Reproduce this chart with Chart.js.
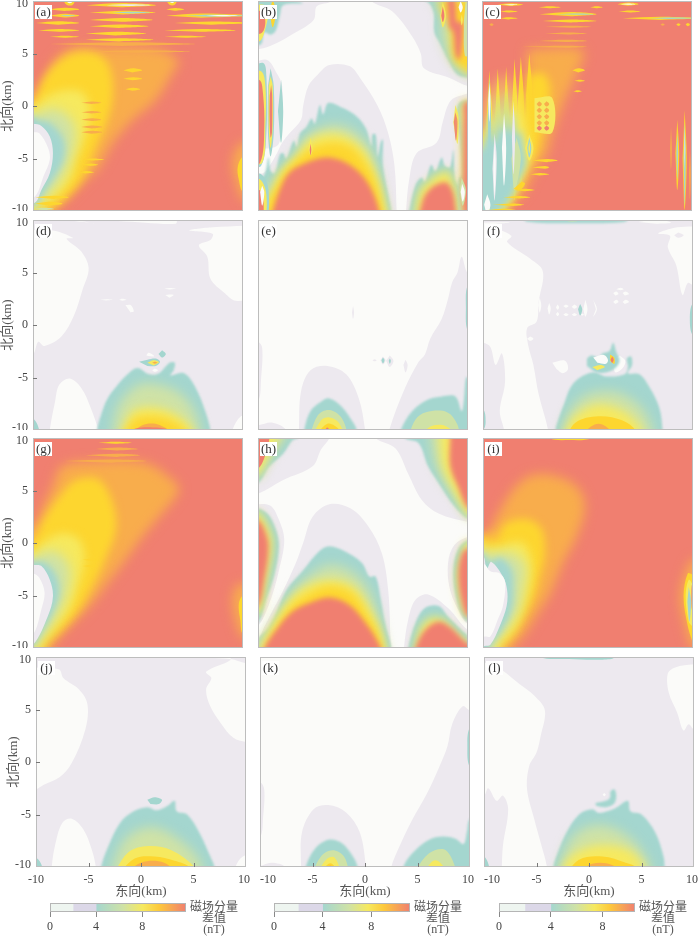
<!DOCTYPE html>
<html>
<head>
<meta charset="utf-8">
<title>磁场分量差值</title>
<script src="https://cdn.jsdelivr.net/npm/chart.js@4/dist/chart.umd.min.js"></script>
<style>
  html, body { margin: 0; padding: 0; background: #fff; }
  #page { position: relative; width: 700px; height: 936px; overflow: hidden; filter: blur(0.3px); }
  #page canvas { position: absolute; }
  .tag { position: absolute; width: 17px; height: 14px; background: #fff; font: 13px/14px "Liberation Serif", serif; color: #333; text-align: center; }
  .unit { position: absolute; width: 56px; font: 12px/11px "Liberation Serif", "Noto Sans CJK SC", serif; color: #555; text-align: center; }
</style>
</head>
<body>
<div id="page"></div>
<script>
// 等值线层 [nT, [x,y, x,y, ...]] 单位 km, 从图上读取, 按顺序叠加
const wholePanel = [-11,-11, 11,-11, 11,11, -11,11];
const axisTicks = [-10, -5, 0, 5, 10];
const levelValues = [0, 2, 4, 5.5, 7, 8, 9, 10.5];
const panelTags = ["(a)", "(b)", "(c)", "(d)", "(e)", "(f)", "(g)", "(h)", "(i)", "(j)", "(k)", "(l)"];
const colorbarTicks = [0, 4, 8];
const colorbarMax = [11.8, 11.2, 10.5];
const colorbarUnit = ["磁场分量", "差值", "(nT)"];

const contoursA = [
  [10.5, wholePanel],
  [9, [-11,1, -10,1, -8.5,3.5, -7.5,4.8, -6,5.6, -4,5.6, 2,5.4, 4,4.2, 3.6,3.7, 1.7,0.6, -0.5,-1.3, -2.4,-3.5, -3.7,-5.8, -4.9,-7, -6.8,-8.9, -8.1,-10, -8.4,-11, -11,-11]],
  [8, [-11,0.25, -10,0.25, -9,2.5, -7.8,4, -6.2,5, -4,5, -2.7,3.7, -2.4,0.9, -3,-1.6, -4,-3.9, -4.9,-6.1, -5.9,-7.7, -7.5,-9.3, -8.7,-10, -8.9,-11, -11,-11]],
  [7, [-11,-0.2, -10,-0.2, -8.7,0.9, -6.8,1.5, -5.2,1.2, -4.6,-0.7, -5.1,-3.2, -5.9,-5.1, -6.3,-6.7, -7.6,-8.4, -9.2,-9.5, -9.8,-10, -11,-11]],
  [5.5, [-11,-0.9, -10,-0.9, -9,-0.4, -7.5,-0.4, -6.2,-1.6, -6,-3.5, -6.8,-6.1, -7.8,-7.7, -9,-8.9, -9.8,-9.5, -11,-9.6]],
  [4, [-11,-1, -10,-1, -9.5,-1.3, -8.4,-1.6, -7.1,-3.2, -7.1,-5.1, -8.1,-7, -9,-8.3, -9.7,-9.4, -11,-9.5]],
  [2, [-11,-1.7, -10,-1.7, -9.2,-1.9, -8.4,-2.9, -8.1,-4.5, -8.4,-6.4, -9.2,-8, -9.8,-9.2, -11,-9.3]],
  [0, [-11,-2.5, -10,-2.5, -9.4,-2.6, -8.6,-3.9, -8.4,-5.1, -9,-6.7, -9.8,-8.6, -11,-8.8]],
  [9, [11,-3.4, 10,-3.5, 9.5,-3.9, 9,-5.4, 9.4,-7.3, 10,-8.9, 11,-9]],
  [8, [11,-4.8, 10,-4.8, 9.5,-5.8, 9.6,-7, 10,-8.2, 11,-8.2]],
  // 横向条纹
  [8, [-4.9,9.6, -1.6,9.8, 1.7,9.6, -1.6,9.4]],
  [2, [-3,9.6, -0.8,9.68, 1.2,9.6, -0.8,9.52]],
  [8, [-4.6,8.9, -1.4,9.08, 1.7,8.9, -1.4,8.72]],
  [4, [-2.5,8.9, -0.5,8.98, 1.2,8.9, -0.5,8.82]],
  [8, [-8.4,9.2, -7,9.35, -5.6,9.2, -7,9.05]],
  [8, [2.7,9.2, 3.5,9.33, 4.4,9.2, 3.5,9.07]],
  [8, [-8.4,8.6, -7,8.78, -5.6,8.6, -7,8.42]],
  [4, [-7.4,8.6, -6.8,8.66, -6,8.6, -6.8,8.54]],
  [8, [2.7,8.6, 6,8.8, 11,8.6, 6,8.4]],
  [4, [4.5,8.6, 7,8.7, 11,8.6, 7,8.5]],
  [0, [6.5,8.6, 8,8.66, 9.5,8.6, 8,8.54]],
  [8, [-4.6,8.2, -1.6,8.38, 1.4,8.2, -1.6,8.02]],
  [8, [-9.7,7.9, -7.6,8.06, -5.6,7.9, -7.6,7.74]],
  [8, [3.5,7.9, 7,8.05, 11,7.9, 7,7.75]],
  [8, [-4.6,7.6, -1.8,7.76, 1,7.6, -1.8,7.44]],
  [8, [-9.5,7.2, -7.5,7.33, -5.6,7.2, -7.5,7.07]],
  [8, [2.5,7.2, 6,7.33, 9.3,7.2, 6,7.07]],
  [8, [-5,6.9, -2.1,7.08, 0.8,6.9, -2.1,6.72]],
  [8, [-8.4,6.6, -7,6.7, -5.6,6.6, -7,6.5]],
  [8, [2.5,6.6, 4.5,6.7, 6.5,6.6, 4.5,6.5]],
  [8, [-5,6.3, -1.8,6.45, 1.5,6.3, -1.8,6.15]],
  [9, [-8.4,5.9, -1.5,6.08, 5.5,5.9, -1.5,5.72]],
  [9, [-5,5.2, 0,5.32, 5,5.2, 0,5.08]],
  [8, [-7.3,10.4, -6.8,9.65, -6.2,9.65, -5.9,10.4]],
  [0, [-6.9,10.3, -6.7,9.85, -6.3,9.85, -6.1,10.3]],
  [8, [2.5,10.4, 3,9.65, 3.5,9.65, 3.9,10.4]],
  [0, [2.8,10.3, 3.1,9.85, 3.4,9.85, 3.6,10.3]],
  [9, [-5.4,0.3, -4.4,0.42, -3.5,0.3, -4.4,0.18]],
  [9, [-5.4,-0.6, -4.4,-0.48, -3.5,-0.6, -4.4,-0.72]],
  [9, [-5.4,-1.3, -4.4,-1.16, -3.5,-1.3, -4.4,-1.44]],
  [9, [-5.4,-2, -4.4,-1.85, -3.4,-2, -4.4,-2.15]],
  [9, [-5.4,-2.5, -4.4,-2.35, -3.4,-2.5, -4.4,-2.65]],
  [8, [-5.2,-5.1, -4.4,-5, -3.2,-5.1, -4.4,-5.2]],
  [8, [-5.3,-5.6, -4.5,-5.48, -3.8,-5.6, -4.5,-5.72]],
  [8, [-5.5,-6.3, -5,-6.18, -4.2,-6.3, -5,-6.42]],
  [8, [-1.4,3.4, -0.5,3.6, 0.4,3.4, -0.5,3.2]],
  [8, [-1.4,2.6, -0.5,2.75, 0.4,2.6, -0.5,2.45]],
  [8, [-1.2,1.6, -0.5,1.75, 0.2,1.6, -0.5,1.45]],
  [8, [-9.8,-8.7, -8,-8.55, -6.6,-8.7, -8,-8.85]],
  [8, [-9.8,-9.3, -8.4,-9.13, -7.2,-9.3, -8.4,-9.47]],
  [5.5, [-9.9,-9.8, -9,-9.7, -8,-9.8, -9,-9.92]]
];

const contoursB = [
  [0, wholePanel],
  [2, [-11,11, -3,11, -3,10, -4.4,9.5, -4.7,8.2, -6.6,6.9, -8.2,6, -9.5,5.5, -11,5.3]],
  [2, [0.8,11, 0.8,10, 2.8,9, 4.7,6.6, 5.5,5, 5.8,3.6, 8.2,2.7, 10,1.9, 11,1.9, 11,11]],
  [2, [3.2,-11, 3.2,-10, 3,-5.7, 2.4,-2.6, 1.4,0, -0.3,2.7, -1.3,3.8, -3.2,3.9, -4.3,3, -5.2,1.9, -5.7,0, -5.9,-1.3, -7,-2.6, -7.7,-3.5, -8.2,-4.5, -8.9,-5.7, -9.5,-6.4, -11,-6.5, -11,-11]],
  [2, [-11,3.8, -9.2,4.4, -8.2,3.1, -7.7,1.9, -7.8,-1.9, -8.2,-3.8, -11,-4]],
  [2, [4.1,-11, 4.1,-10, 4.4,-7, 5.1,-4.5, 7,-3.5, 7.6,-1.5, 8.2,0.3, 9,0.9, 11,1, 11,-11]],
  // 上方主峰
  [4, [-11,-7, -9.5,-6.7, -9,-4.9, -8.8,-6.2, -8.4,-6.4, -7.9,-4.6, -7.6,-4.5, -7.3,-5, -6.6,-3.3, -6.3,-3.9, -6,-2.6, -5.4,-2, -4.9,-1.2, -4.6,-1.7, -4.1,0.1, -3.8,-0.8, -3.3,0.3, -1.9,-0.2, -0.6,-1, 0.3,-2.2, 0.8,-3.8, 0.9,-2.7, 1.2,-2.7, 1.4,-4.8, 1.7,-3.4, 1.9,-3.2, 1.9,-5.7, 2.7,-10, 2.7,-11, -11,-11]],
  [5.5, [-9.3,-11, -9.3,-8.5, -8.7,-7, -8.2,-6.6, -7.2,-5.6, -6,-3.8, -4.9,-2.6, -3.2,-1.8, -1.3,-2.1, 0.3,-3.5, 1.2,-5.4, 1.8,-7.9, 2.5,-11]],
  [7, [-9.5,-11, -9.5,-9, -8.8,-8.7, -7.6,-6, -6.3,-4.8, -5.1,-3.2, -3.2,-2.6, -1.6,-2.9, 0,-4.1, 0.9,-5.7, 1.7,-7.9, 2.4,-11]],
  [8, [-9.2,-11, -9.2,-9.6, -7.9,-7, -6.6,-5.4, -5,-4.1, -3.2,-3.5, -1.3,-3.8, 0,-5.1, 1.2,-7.3, 2.1,-11]],
  [10.5, [-8.8,-11, -8.6,-10, -7.9,-7.9, -7,-6.3, -5.4,-5.4, -3.5,-4.9, -1.6,-5.4, 0,-6.7, 1.1,-8.6, 1.8,-11]],
  [7, [-5,-3, -4.8,-4.1, -5,-4.7, -5.2,-4.1]],
  [10.5, [-5,-3.6, -4.92,-4.2, -5,-4.7, -5.08,-4.2]],
  // 左侧竖条
  [4, [-11,3.5, -9.5,4.1, -9.2,2.8, -9.2,-2.6, -9.7,-5.7, -11,-5.7]],
  [7, [-11,3.2, -9.7,3.3, -9.3,1.9, -9.3,-1.9, -9.6,-5.4, -11,-5.4]],
  [10.5, [-11,2.5, -9.9,2.5, -9.6,1.9, -9.4,-1.9, -9.8,-5.4, -11,-5.4]],
  [4, [-8.8,3.6, -8.5,1.9, -8.5,-2.6, -8.8,-4.8, -9.05,-2.6, -9.05,1.9]],
  [7, [-8.8,2.8, -8.6,1.9, -8.6,-2, -8.8,-4, -8.98,-2, -8.98,1.9]],
  [10.5, [-8.75,2, -8.65,1, -8.67,-2.5, -8.8,-3, -8.9,-1, -8.88,1]],
  [4, [-7.8,2.5, -7.6,-0.5, -7.8,-3.5, -8.1,-0.5]],
  [4, [-11,-6.5, -9.7,-6.5, -9,-8, -9.3,-11, -11,-11]],
  [7, [-11,-7, -9.8,-7, -9.2,-8.5, -9.5,-11, -11,-11]],
  [10.5, [-11,-8.5, -9.9,-8, -9.5,-8.8, -9.7,-11, -11,-11]],
  [0, [-9.6,-7.6, -9.4,-8.2, -9.6,-9.5, -9.8,-8.2]],
  // 左上
  [4, [-9.9,10.2, -7.5,10.2, -5.7,9.8, -7.6,9.6, -7.9,8.7, -8.3,7.2, -8.8,6.8, -9.4,7, -9.7,5.9, -10.5,5.9, -10.5,10.2]],
  [7, [-10.5,9.6, -9.3,9.6, -9,9, -9.4,7, -9.8,6.2, -10.5,6.2]],
  [10.5, [-10.5,9, -9.6,9, -9.3,8, -9.6,7, -10.5,6.8]],
  [8, [-8.6,10.2, -8.3,9, -8.6,7.5, -8.9,9]],
  // 右上竖条
  [4, [4,10.2, 6,10, 6.7,9, 6.8,7, 7.3,6, 8.2,4.2, 9,3, 10,2.7, 11,2.7, 11,10.2]],
  [5.5, [6.5,10.2, 7.4,9, 7.5,6.5, 8.3,4.5, 9,3.6, 10,2.8, 11,2.8, 11,10.2]],
  [8, [7.2,10.2, 7.8,8.4, 8.3,7.4, 8.6,4.4, 9.3,3.7, 10,3.2, 11,3.2, 11,10.2]],
  [10.5, [8,10.2, 8.7,10.2, 8.95,8, 9.5,8, 9.35,5, 9.1,4.4, 8.8,5, 8.6,7, 8.2,7.5]],
  [7, [7.6,9.9, 7.9,8.6, 7.6,7.5, 7.35,8.6]],
  [10.5, [7.6,9.5, 7.75,8.6, 7.6,8, 7.45,8.6]],
  [5.5, [9.8,10.2, 10.2,8, 10.2,4.8, 9.7,4.8, 9.6,8]],
  [0, [9.3,10, 9.5,9.4, 9.3,8.9, 9.1,9.4]],
  [7, [9.4,8.7, 9.5,8.2, 9.4,7.7, 9.3,8.2]],
  // 右下
  [4, [4.3,-11, 4.4,-10, 5,-7.5, 5.6,-6.8, 5.9,-7.2, 6.5,-5.6, 6.9,-6.2, 7.5,-4.9, 7.8,-5.7, 8.3,-5.8, 8.6,-4.2, 8.8,-7, 9.3,-8, 9.3,-11]],
  [7, [4.8,-11, 5.2,-8.5, 5.9,-7.3, 6.4,-7.2, 6.8,-6.4, 7.3,-6.6, 7.8,-6, 8.3,-6.4, 8.7,-7.5, 9,-9, 9,-11]],
  [10.5, [5.2,-11, 5.8,-8.7, 6.5,-7.8, 7.2,-7.4, 8,-7.3, 8.6,-8.3, 8.9,-10, 9,-11]],
  [4, [11,-10.5, 9.4,-10.5, 9.1,-9, 9.1,-7, 9.4,-6.5, 9.2,-3, 8.9,-0.6, 9.3,0.4, 11,0.6]],
  [7, [8.8,0.1, 9.1,-1, 9,-3.6, 8.6,-1.6]],
  [10.5, [8.8,-0.6, 9,-1.5, 8.85,-3.3, 8.65,-1.5]],
  [7, [11,-10.5, 9.5,-10.5, 9.3,-9, 9.35,-7, 9.4,-3, 9.4,0.4, 11,0.5]],
  [10.5, [11,-10.5, 9.8,-10.5, 9.5,-9, 9.55,-6, 9.6,-1, 9.7,0.3, 11,0.4]],
  [5.5, [9.4,-6.8, 9.8,-8, 9.5,-9.5, 9.2,-8]],
  [0, [9.45,-7.4, 9.7,-8.2, 9.5,-9.1, 9.3,-8.2]]
];

const contoursC = [
  [10.5, wholePanel],
  [9, [-5.7,5.4, -0.4,5.3, -1,3.1, -2,0.9, -3.3,-2.6, -3.9,-4.8, -4.8,-5.8, -6.1,-8.3, -8,-10, -8.5,-11, -11,-11, -11,-4, -9,-2.5, -6.5,-0.5, -5.7,1]],
  [8, [-5.6,3, -4,3, -3.5,1, -4.3,-2.5, -4.8,-4.5, -6,-6, -7,-8.5, -8,-10, -8.6,-11, -11,-11, -11,-3.5, -9.5,-2.2, -6.5,-1, -5.8,1]],
  // 竖条
  [8, [-9.3,3.4, -9,-2, -9.3,-7.6, -9.6,-2]],
  [8, [-8.5,3.6, -8.2,-2, -8.5,-9, -8.8,-2]],
  [8, [-7.7,3.75, -7.4,-2, -7.7,-9, -8,-2]],
  [8, [-6.9,4.5, -6.6,-1, -6.9,-9, -7.2,-1]],
  [8, [-6.3,4.7, -6,0, -6.3,-8, -6.6,0]],
  [8, [-5.5,5, -5.2,1, -5.5,-5, -5.8,1]],
  [7, [-9.8,-3, -9.3,2, -8.9,-1.5, -8.5,3, -8,-1, -7.7,3.2, -7.2,-1, -6.9,2.5, -6.5,-1, -6.3,1.5, -5.9,-1.5, -5.6,-3, -5.4,-5, -6.2,-7, -7.2,-9, -8.5,-10.3, -11,-11, -11,-5, -10.2,-4]],
  [4, [-9.55,-2.5, -9.3,-1, -9,-2.5, -8.75,-3.5, -8.5,1, -8.2,-2, -7.95,-2.5, -7.7,1.5, -7.4,-2, -7.2,-2.5, -6.95,-0.5, -6.7,-2.5, -6.5,-3, -6.3,-2.2, -6,-4, -5.8,-5.5, -6.4,-7, -7.4,-9, -9,-10.5, -11,-11, -11,-5, -10,-4]],
  [5.5, [-6.7,-3, -6.3,-5, -6.9,-8, -7.2,-5]],
  [8, [-6.2,-7.2, -5.9,-7.4, -6.4,-8, -7,-7.9]],
  [4, [-9.3,2.8, -9.15,-1, -9.3,-6, -9.45,-1]],
  [0, [-9.3,2.2, -9.2,0.5, -9.3,-1.5, -9.4,0.5]],
  [0, [-7.9,-0.7, -7.7,-4, -7.9,-7.6, -8.1,-4]],
  [2, [-8.8,-2.6, -8.6,-5, -8.8,-9, -9,-6]],
  [0, [-8.8,-3.6, -8.7,-5.5, -8.8,-8.5, -8.9,-6]],
  [2, [-7,0.5, -6.85,-3, -7,-6.5, -7.15,-3]],
  [0, [-9.5,-8.4, -9.2,-9.4, -9.5,-10.3, -9.8,-9.4]],
  [7, [-5.5,-2.7, -5.1,-4, -5.5,-5.2, -5.9,-4]],
  [4, [-5.5,-3, -5.3,-4, -5.5,-4.9, -5.7,-4]],
  [7, [-5.5,-3.4, -5.42,-4, -5.5,-4.5, -5.58,-4]],
  // 方块
  [7, [-5,0.75, -3.3,0.75, -3.3,-2.5, -5,-2.5]],
  [9, [-4.55,0.45, -4.3,0.2, -4.55,-0.05, -4.8,0.2]],
  [9, [-3.85,0.45, -3.6,0.2, -3.85,-0.05, -4.1,0.2]],
  [9, [-4.55,-0.15, -4.3,-0.4, -4.55,-0.65, -4.8,-0.4]],
  [9, [-3.85,-0.15, -3.6,-0.4, -3.85,-0.65, -4.1,-0.4]],
  [9, [-4.55,-0.75, -4.3,-1, -4.55,-1.25, -4.8,-1]],
  [9, [-3.85,-0.75, -3.6,-1, -3.85,-1.25, -4.1,-1]],
  [9, [-4.55,-1.35, -4.3,-1.6, -4.55,-1.85, -4.8,-1.6]],
  [9, [-3.85,-1.35, -3.6,-1.6, -3.85,-1.85, -4.1,-1.6]],
  [10.5, [-4.55,-1.85, -4.3,-2.1, -4.55,-2.35, -4.8,-2.1]],
  [10.5, [-3.85,-1.85, -3.6,-2.1, -3.85,-2.35, -4.1,-2.1]],
  // 条纹
  [8, [-5.2,-5.2, -3.8,-5.05, -2.8,-5.2, -3.8,-5.35]],
  [8, [-5.2,-5.85, -4,-5.72, -3.6,-5.85, -4,-5.98]],
  [8, [-5.4,-6.5, -4.5,-6.38, -3.6,-6.5, -4.5,-6.62]],
  [8, [-7,-8, -5.9,-7.88, -5,-8, -5.9,-8.12]],
  [8, [-8,-8.7, -6.4,-8.58, -5.4,-8.7, -6.4,-8.82]],
  [8, [-9,-9.4, -7,-9.28, -6,-9.4, -7,-9.52]],
  [8, [-9.5,-9.9, -8,-9.78, -6.8,-9.9, -8,-10.02]],
  [8, [-8.5,9.65, -7.3,9.78, -6.1,9.65, -7.3,9.52]],
  [0, [-8,9.65, -7.3,9.7, -6.6,9.65, -7.3,9.6]],
  [8, [-8.3,9, -7.5,9.1, -6.6,9, -7.5,8.9]],
  [8, [-8.3,8.35, -7.5,8.45, -6.6,8.35, -7.5,8.25]],
  [8, [-4.6,9.4, -3.6,9.5, -2.5,9.4, -3.6,9.3]],
  [8, [-4.5,8.75, -1.5,8.95, 0.9,8.75, -1.5,8.55]],
  [4, [-3,8.75, -0.8,8.82, 0.7,8.75, -0.8,8.68]],
  [8, [-4.2,8.1, -1.5,8.24, 0.9,8.1, -1.5,7.96]],
  [9, [-4,7.55, -1.5,7.65, 0.4,7.55, -1.5,7.45]],
  [9, [-4,6.9, -1.8,7, 0,6.9, -1.8,6.8]],
  [9, [-4.6,6.2, -2,6.3, 0,6.2, -2,6.1]],
  [9, [-6.2,5.65, -2,5.75, 0,5.65, -2,5.55]],
  [8, [0.3,9.4, 0.9,9.5, 1.5,9.4, 0.9,9.3]],
  [8, [2.9,9.7, 3.9,9.85, 4.9,9.7, 3.9,9.55]],
  [0, [3.2,9.7, 3.9,9.76, 4.6,9.7, 3.9,9.64]],
  [8, [3,9, 4.1,9.1, 5.1,9, 4.1,8.9]],
  [8, [3.4,8.35, 7,8.5, 11,8.35, 7,8.2]],
  [4, [6,8.35, 8,8.42, 11,8.35, 8,8.28]],
  [9, [-9.3,7.75, -9.1,7.87, -8.9,7.75, -9.1,7.63]],
  [9, [7,7.75, 7.2,7.85, 7.4,7.75, 7.2,7.65]],
  [8, [8.5,7.75, 8.7,7.88, 8.9,7.75, 8.7,7.62]],
  [8, [9.4,7.75, 9.6,7.9, 9.8,7.75, 9.6,7.6]],
  [8, [-3.3,10.4, -2.4,9.95, -1.5,10.4]],
  // 右侧竖条
  [9, [8,-2, 8.08,-4, 8,-6, 7.92,-4]],
  [8, [8.6,-1.3, 8.78,-4.5, 8.6,-8, 8.42,-4.5]],
  [4, [8.6,-2.5, 8.68,-4.5, 8.6,-7, 8.52,-4.5]],
  [8, [9.3,-0.4, 9.5,-5, 9.3,-9.9, 9.1,-5]],
  [4, [9.3,-1.5, 9.4,-5, 9.3,-9.5, 9.2,-5]],
  [0, [9.3,-2, 9.35,-4, 9.3,-6]],
  [9, [9.8,-4.2, 9.88,-6.5, 9.8,-8.9, 9.72,-6.5]],
  [5.5, [-10.2,4, -9.9,3, -10.2,2]],
  [5.5, [10.2,1, 9.9,0.2, 10.2,-0.6]],
  [8, [-1.4,3.4, -0.8,3.6, -0.2,3.4, -0.8,3.2]],
  [8, [-1.2,2.4, -0.7,2.5, -0.2,2.4, -0.7,2.3]],
  [8, [-1.3,1.4, -0.9,1.5, -0.5,1.4, -0.9,1.3]]
];

const contoursD = [
  [2, wholePanel],
  [0, [-11,9, -8.1,9, -6.2,8.3, -6.8,8.2, -5.4,7, -4.7,5.4, -5.3,3.3, -6.1,0.9, -7.3,-1.1, -8.9,-2, -9.5,-1.6, -10,-2.8, -11,-2.8]],
  [0, [-1.9,9.9, 0.7,9.75, 3.6,9.65, 3.6,10.1, -1.9,10.1]],
  [0, [-6.5,9.95, -4.2,9.7, -6.8,10.1]],
  [0, [11,9.5, 7.1,9.3, 4.9,9, 7.1,8.7, 6.9,8.1, 5.8,7.6, 6.6,6.5, 6.9,4.4, 8.3,3, 9.3,2.3, 11,2.5]],
  [0, [-8.4,-11, -8.4,-10, -7.9,-7.3, -7.5,-5.7, -6.5,-5.1, -5.4,-6, -4.5,-7.9, -3.8,-10, -3.8,-11]],
  [0, [9,-11, 9,-10, 9.8,-8.7, 11,-8.4, 11,-11]],
  [0, [-1.2,1.9, -0.7,1.9, -0.4,1.3, -0.7,1.2]],
  [0, [-3.6,2.4, -3,2.46, -2.4,2.4, -3,2.34]],
  [0, [-1.8,2.4, -1.5,2.5, -1.1,2.4, -1.5,2.3]],
  [0, [2.5,3.45, 3,3.52, 3.6,3.45, 3,3.38]],
  [0, [2.6,2.85, 3,2.9, 3.4,2.85, 3,2.6]],
  [4, [-3.9,-11, -3.9,-10, -3.5,-8.5, -2.9,-7, -2.1,-5.9, -1,-4.7, -0.05,-4.1, 1.05,-4.7, 2,-4.6, 3,-3.6, 3.5,-3.6, 3.4,-4.3, 3.1,-4.8, 4.4,-4.6, 5.5,-6, 6.4,-8.2, 6.9,-10, 6.9,-11]],
  [4, [-11,-8.9, -10,-8.9, -9.4,-10, -9.4,-11, -11,-11]],
  [0, [1.35,-4.3, 1.6,-4.45, 1.9,-4.3, 1.6,-4.15]],
  [0, [1,-2.95, 1.5,-3, 1.5,-2.9, 1,-2.65, 0.8,-2.9]],
  [4, [0.1,-3.5, 0.9,-3.3, 1.7,-3.2, 2.1,-3.5, 1.7,-3.9, 0.9,-3.9]],
  [7, [0.9,-3.6, 1.5,-3.35, 2,-3.55, 1.5,-3.85]],
  [9, [1.35,-3.6, 1.6,-3.5, 1.85,-3.6, 1.6,-3.7]],
  [4, [2.3,-2.4, 2.65,-2.75, 2.3,-3.1, 1.95,-2.75]],
  [5.5, [-2.4,-11, -2.4,-10, -1.8,-7.6, 0.1,-5.7, 2,-5.7, 4.1,-6.6, 5.5,-8.5, 6.1,-11]],
  [7, [-1.9,-11, -1.4,-9.9, -0.5,-8.2, 1.4,-7.8, 3.6,-8.5, 5.2,-10, 5.5,-11]],
  [8, [-1.5,-11, -1.2,-10.1, -0.2,-8.9, 1.7,-8.7, 3.6,-9.3, 4.6,-10.1, 4.8,-11]],
  [9, [-1.2,-11, 0.4,-9.55, 2,-9.5, 4.3,-11]],
  [10.5, [-1.1,-11, -0.6,-10, 1.4,-9.75, 3,-10, 4,-11]]
];

const contoursE = [
  [0, wholePanel],
  [2, [2.5,-11, 2.5,-10, 4,-6, 5.3,-3.5, 5.9,-2.8, 6.4,-1.3, 7.5,0.6, 8.1,2.5, 8.5,4.1, 9,5, 9.4,6.5, 10,4.9, 11,4.9, 11,-11]],
  [2, [-6.1,-11, -6.1,-10, -5.9,-6.3, -5,-4.3, -3.4,-3.9, -1.6,-4.7, -0.4,-7, 0.2,-10, 0.2,-11]],
  [2, [-11,-1.6, -10,-1.6, -9.6,-2.2, -9.7,-5, -10,-7.3, -11,-7.3]],
  [2, [-11,-9.6, -10,-9.55, -8.6,-9.3, -7.3,-10, -7.3,-11, -11,-11]],
  [2, [1.1,-3.25, 1.3,-3.35, 1.1,-3.45, 0.9,-3.35]],
  [2, [1.9,-3, 2.15,-3.35, 1.9,-3.75, 1.65,-3.35]],
  [2, [2.55,-2.9, 2.9,-3.4, 2.55,-4, 2.2,-3.4]],
  [2, [4.05,-3.3, 4.25,-3.8, 4.05,-4.5, 3.85,-3.8]],
  [2, [-0.95,1.8, -0.85,1.2, -0.95,0.6, -1.05,1.2]],
  [4, [1.9,-3.1, 2.05,-3.35, 1.9,-3.65, 1.75,-3.35]],
  [4, [2.55,-3.2, 2.65,-3.4, 2.55,-3.7, 2.45,-3.4]],
  [4, [3.6,-11, 3.6,-10, 4.7,-8.2, 6.2,-7.1, 7.5,-6.8, 8.8,-6.8, 9.4,-8.2, 9.6,-7.2, 9.8,-5, 10,-5, 11,-5, 11,-11]],
  [4, [11,3.8, 10,3.8, 9.8,1.6, 10,-0.6, 11,-0.6]],
  [5.5, [4.2,-11, 5,-9, 6,-8.3, 8,-8.3, 9,-9.5, 9.2,-11]],
  [7, [5.5,-11, 6.2,-9.8, 7.4,-9.5, 8.4,-10, 8.8,-11]],
  [4, [-5.6,-11, -5.6,-10, -5,-8.2, -4,-7.3, -3.2,-7, -2,-7.8, -1,-9.2, -0.6,-10, -0.6,-11]],
  [5.5, [-5.2,-11, -4.3,-8.6, -3.2,-8.1, -2,-8.9, -1.3,-11]],
  [7, [-5,-11, -4,-9.1, -3.2,-8.8, -2.3,-9.3, -1.6,-11]],
  [8, [-4.8,-11, -3.4,-9.4, -2.2,-10, -1.8,-11]],
  [10.5, [-4,-11, -3.4,-9.75, -2.8,-11]]
];

const contoursF = [
  [2, wholePanel],
  [0, [-11,9.75, -7.4,9.75, -9.3,9.5, -7.3,8.5, -7.7,7.9, -5.5,6.3, -4.3,5.1, -4.7,2.2, -4.9,0.3, -5.8,-0.3, -5.7,-1.9, -5.2,-3.8, -4.7,-6.6, -3.8,-10, -3.8,-11, -8,-11, -8,-10, -8.4,-8.2, -7.9,-5.4, -8.2,-2.7, -8.8,-3.8, -9.3,-2.1, -10,-1.7, -11,-1.7]],
  [0, [11,9.4, 8.5,9.3, 6.65,8.7, 7.8,8.5, 7.6,7.4, 8.4,5.7, 9,2.85, 9.5,4, 10,3.8, 11,3.8]],
  [2, [8.6,8.8, 9.1,8.55, 8.6,8.3, 8.2,8.55]],
  [0, [4.8,9.8, 6.5,10.1, 7.9,9.75, 6.5,9.65]],
  [4, [-6.1,11, -6.1,10, -4.9,9.75, -1.7,9.7, 2.7,9.75, 3.8,10, 3.8,11]],
  [5.5, [-4.5,11, -1.5,9.85, 1.5,11]],
  [4, [11,2.1, 10,2.1, 9.7,0.6, 10,-1, 11,-1]],
  [4, [-11,-8, -10,-8, -9.75,-9.2, -10,-10, -11,-10]],
  [4, [-3.1,-11, -3.1,-10, -2.8,-8.9, -2.2,-7.3, -1.7,-6, -0.9,-5.1, 0.5,-4.5, 1.75,-4.9, 3.5,-4.7, 3.8,-4, 3.7,-3.2, 4.1,-3, 4.2,-3.8, 3.8,-4.6, 4.9,-4.7, 5.9,-6, 6.8,-7.9, 7.1,-10, 7.1,-11]],
  [5.5, [-2.6,-11, -1.9,-8.5, -0.2,-6.7, 2.6,-6.4, 4.8,-7.6, 6,-9.5, 6.3,-11]],
  [7, [-2.3,-11, -2,-9.8, -1,-8.5, 1,-7.6, 3.3,-8.2, 5,-9.8, 5.3,-11]],
  [8, [-2.2,-11, -1.2,-9.3, 1,-8.7, 3.3,-9.1, 4.6,-10.1, 4.8,-11]],
  [9, [-1.2,-11, 1,-9.4, 3.2,-11]],
  [0, [-3.4,-3.6, -2.2,-3.4, -1.9,-4.2, -2.4,-4.6, -3,-4.2]],
  [0, [3,-2.9, 3.55,-3.4, 3.3,-4.1, 2.6,-4.5, 2.4,-3.5]],
  [4, [-0.1,-3.2, 0.3,-2.9, 1,-3.1, 1.4,-2.7, 1.8,-2.6, 2.1,-2.4, 2.4,-1.7, 2.7,-2.6, 3,-3.4, 2.6,-4.1, 1.8,-4.5, 0.8,-4.5, -0.1,-3.9]],
  [0, [0.5,-3.1, 1.5,-2.85, 1.9,-3.3, 1.7,-3.7, 0.9,-3.6]],
  [7, [0.4,-4, 1.2,-3.8, 1.6,-4, 0.9,-4.3]],
  [8, [2.1,-2.8, 2.5,-3.1, 2.5,-3.7, 2.1,-3.4]],
  [10.5, [2.3,-3, 2.45,-3.3, 2.3,-3.6, 2.15,-3.3]],
  // 小斑点
  [0, [-4.6,2.6, -4.45,1.9, -4.6,1.2, -4.75,1.9]],
  [0, [-3.7,2.1, -3.55,1.6, -3.7,1, -3.85,1.6]],
  [0, [-2.9,1.95, -2.75,1.7, -2.9,1.45, -3.05,1.7]],
  [0, [-2.9,1.25, -2.75,1.05, -2.9,0.85, -3.05,1.05]],
  [0, [-2.1,1.95, -1.85,1.8, -2.1,1.65, -2.35,1.8]],
  [0, [-2.1,1.15, -1.85,1, -2.1,0.85, -2.35,1]],
  [0, [-1.3,1.95, -1.05,1.75, -1.3,1.55, -1.55,1.75]],
  [0, [-1.3,1.15, -1.05,1, -1.3,0.85, -1.55,1]],
  [0, [-0.25,2.4, -0.05,1.5, -0.25,0.8, -0.45,1.5]],
  [0, [0.5,2.4, 0.85,1.5, 0.5,0.8, 0.75,1.5]],
  [0, [-0.55,1.1, -0.4,1, -0.55,0.9, -0.7,1]],
  [4, [-0.75,2, -0.55,1.5, -0.75,0.9, -0.95,1.5]],
  [0, [-5.5,-1.1, -5.2,-1.3, -5.5,-1.5, -5.8,-1.3]],
  [0, [2.7,3.4, 3.1,3.55, 3.4,3.4, 3.1,3.3]],
  [0, [2.4,3.05, 2.7,3.2, 2.9,2.95, 2.6,2.8]],
  [0, [3.3,3.05, 3.6,3.2, 3.9,2.95, 3.5,2.8]],
  [0, [2.4,2.2, 2.7,2.4, 2.9,2.2, 2.6,2]],
  [0, [3.3,2.2, 3.6,2.4, 3.9,2.2, 3.5,2]],
  [2, [3.1,2.9, 3.25,2.6, 3.1,2.3, 2.95,2.6]]
];

const contoursG = [
  [10.5, wholePanel],
  [9, [-11,1.6, -10,1.6, -9.05,3.5, -8.1,5.4, -7.2,7.3, -3.7,7.75, 0.75,7.6, 3.3,6, 3.9,5, 2,2.5, 0.4,0.6, -1.2,-1.6, -3.1,-4.1, -4.6,-6, -6.5,-7.9, -8.4,-10, -8.6,-11, -11,-11]],
  [8, [-11,0.3, -10,0.3, -9,2.2, -7.5,4.4, -5.9,6, -3.7,6, -2.4,3.8, -2.1,1.3, -3,-1.3, -4.3,-4.1, -5.6,-6.3, -7.2,-8.2, -8.9,-10, -9,-11, -11,-11]],
  [7, [-11,-1, -10,-1, -9,0.1, -7.2,0.9, -5.6,0.3, -5.1,-1.6, -5.7,-4.1, -6.5,-6.3, -7.8,-7.9, -9.2,-9.5, -9.7,-11, -11,-11]],
  [5.5, [-11,-1.4, -10,-1.4, -8.9,-0.8, -7.5,-1, -6.5,-2.5, -6.7,-4.7, -7.5,-6.6, -8.7,-8.5, -9.85,-9.9, -11,-10]],
  [4, [-11,-1.8, -10,-1.8, -9,-1.8, -7.9,-2.9, -7.5,-4.7, -8.1,-6.6, -9.4,-8.9, -10,-9.8, -11,-9.8]],
  [2, [-11,-2.1, -10,-2.1, -9.2,-2.2, -8.4,-3.5, -8.1,-5.1, -8.6,-7, -10,-9.7, -11,-9.7]],
  [0, [-11,-2.9, -10,-2.9, -9.4,-3.3, -8.9,-4.7, -9.2,-6.3, -10,-8.7, -11,-8.7]],
  [9, [11,-3.9, 10,-3.9, 9.4,-4.1, 9,-5.4, 9.3,-7.3, 10,-9, 11,-9]],
  [8, [11,-5, 10,-5, 9.6,-5.8, 9.75,-7.4, 10,-8.7, 11,-8.7]],
  [8, [-3.8,9.55, -2.2,9.65, -0.6,9.55, -2.2,9.45]],
  [9, [-4,8.95, -2,9.1, 0,8.95, -2,8.8]],
  [9, [-5,8.35, -2,8.5, 0.2,8.35, -2,8.2]],
  [9, [-7,7.8, -2.5,7.95, 0.8,7.8, -2.5,7.65]],
  [8, [-5.3,-1.6, -4.5,-1.5, -3.6,-1.6, -4.5,-1.7]],
  [8, [-5.3,-2.2, -4.5,-2.1, -3.8,-2.2, -4.5,-2.3]]
];

const contoursH = [
  [0, wholePanel],
  [2, [-11,11, -3.2,11, -3.2,10, -4,8.9, -4.8,7.3, -7.6,6, -10,4.7, -11,4.7]],
  [2, [1.2,11, 1.2,10, 3.1,9, 4.3,6.6, 5.6,4.1, 7.2,2.8, 10,2, 11,2, 11,11]],
  [4, [-11,5.7, -10,5.7, -8.9,7.3, -7.6,8.5, -6.7,9.8, -6.2,10, -6.2,11, -11,11]],
  [5.5, [-11,6.2, -10,6.2, -9,7.8, -8.2,9.2, -7.4,10, -7.4,11, -11,11]],
  [7, [-11,6.6, -10,6.6, -9.4,7.6, -8.4,9.5, -8.1,10, -8.1,11, -11,11]],
  [10.5, [-11,7.1, -10,7.1, -9.4,8.1, -8.9,10, -8.9,11, -11,11]],
  [4, [4,11, 4,10, 5.3,9.5, 6.2,7.3, 7.2,5.7, 8.7,3.5, 10,2.3, 11,2.3, 11,11]],
  [5.5, [6.3,11, 6.6,9, 7,7.3, 8,5.5, 9.2,3.9, 10,2.5, 11,2.5, 11,11]],
  [7, [7.3,11, 7.3,10, 7.6,7.3, 8.4,5.4, 10,2.7, 11,2.7, 11,11]],
  [10.5, [8.3,11, 8.3,10, 8.3,7.3, 9.1,5.2, 10,3.3, 11,3.3, 11,11]],
  [2, [-11,3.6, -8.9,3.6, -8,2.2, -7.5,0.3, -8,-2.6, -8.9,-5.7, -10,-7.9, -11,-7.9]],
  [4, [-11,3.3, -10,3.3, -9,2.7, -8.3,1.3, -8,-0.3, -8.4,-2.9, -9.2,-5.4, -10,-7.6, -11,-7.6]],
  [7, [-11,3, -10,3, -9.2,1.9, -8.6,0, -9.2,-4.1, -9.8,-6.7, -11,-6.7]],
  [10.5, [-11,2.2, -10,2.2, -9.4,1.3, -9,-0.3, -9.4,-3.5, -10,-6, -11,-6]],
  [2, [3,-11, 2.7,-10, 2.4,-4.5, 1.8,-1, 0.5,1.6, -1.2,3.3, -3.2,3.7, -4.8,2.5, -5.7,0, -6.4,-1.9, -7.6,-4.5, -8.9,-7, -9.8,-8.9, -10,-10, -11,-11]],
  [4, [-10.5,-9.5, -8.9,-7.9, -7.3,-4.5, -5.7,-2.6, -4.2,-0.8, -3.2,-0.3, -1.7,-0.8, -0.1,-1.9, 0.6,-3.2, 1.2,-3.2, 1.7,-5.4, 2.1,-7.6, 2.7,-10, 2.7,-11, -10.5,-11]],
  [5.5, [-10.2,-11, -9.8,-9.4, -8.2,-7, -6.4,-4.3, -4.8,-2.9, -3.2,-2.1, -1.3,-2.6, 0.3,-4.1, 1.3,-6.4, 2.4,-11]],
  [7, [-10,-11, -9.8,-9.9, -8.6,-7.8, -7,-5.4, -5.4,-4.1, -3.2,-3.5, -1,-4.1, 0.7,-6.4, 1.7,-8.6, 2.3,-11]],
  [8, [-9.6,-11, -8.3,-8.2, -6.8,-6, -5.1,-4.8, -3.2,-4.1, -1,-4.8, 0.5,-7, 1.4,-8.6, 2,-11]],
  [10.5, [-9.5,-11, -9.4,-10, -8.3,-8.3, -6.7,-6.5, -4.8,-5.6, -3.2,-5.2, -1.3,-5.9, 0.4,-7.8, 1.7,-10, 1.8,-11]],
  [2, [3.9,-11, 3.9,-10, 4.3,-7.3, 5,-5.4, 6.2,-4.9, 8.1,-6.2, 10,-8.3, 11,-8.3, 11,-11]],
  [4, [4.3,-11, 4.3,-10, 5,-7.6, 5.9,-6.2, 7.2,-6, 8.1,-7, 9.4,-8.3, 10,-8.9, 10,-11]],
  [7, [4.7,-11, 5.4,-8.2, 6.5,-7.1, 7.7,-7.3, 9,-8.6, 10,-9.5, 10,-11]],
  [10.5, [5,-11, 5,-10, 5.9,-8.3, 7.2,-7.5, 8.4,-8.1, 10,-9.6, 11,-9.6, 11,-11]],
  [2, [11,0.6, 10,0.6, 8.7,-0.2, 8.1,-1.9, 8.3,-4.5, 9.4,-7, 10,-7.7, 11,-7.7]],
  [4, [11,0.3, 10,0.3, 9.05,-0.6, 8.6,-2.6, 8.9,-5.4, 9.8,-7.4, 11,-7.4]],
  [7, [11,0.1, 9.8,0.1, 9.2,-1.4, 8.9,-3.2, 9.3,-6, 9.8,-7, 11,-7]],
  [10.5, [11,-0.5, 10,-0.5, 9.4,-1.1, 9.1,-3.2, 9.5,-6, 10,-7, 11,-7]]
];

const contoursI = [
  [10.5, wholePanel],
  [9, [-11,0.3, -10,0.3, -8.7,2.5, -7.4,4.7, -5.7,6.3, -3.65,6.5, -1.1,5.4, -0.3,3.5, -1.1,0.6, -2.4,-1.9, -3.6,-4.8, -4.6,-6.4, -6.2,-8.9, -7.3,-10, -7.5,-11, -11,-11]],
  [8, [-11,0.8, -10,0.8, -9.65,-0.1, -9.3,1.3, -8.9,0, -8.1,1.6, -7.1,2.2, -5.5,2.2, -4.4,1.3, -4.1,-1, -4.6,-3.2, -5.1,-5.1, -6.2,-7.3, -7.4,-9.2, -8.4,-10, -8.5,-11, -11,-11]],
  [7, [-11,-0.1, -10,-0.1, -9.65,-0.9, -9,-0.3, -8.4,-0.5, -7.8,-0.1, -6.2,0, -5.4,-1.6, -5.5,-3.8, -6,-5.7, -6.9,-7.9, -8.4,-9.7, -9,-11, -11,-11]],
  [5.5, [-11,-0.6, -10,-0.6, -9.5,-1, -8.4,-0.9, -7.1,-1, -6,-2.2, -6.2,-4.5, -6.6,-6.4, -7.8,-8.3, -9,-9.8, -9.2,-11, -11,-11]],
  [4, [-11,-1, -10,-1, -9.3,-1.8, -8.4,-1.4, -7.3,-2.5, -7.1,-4.5, -7.3,-6.4, -8.2,-8.3, -9.3,-9.8, -9.8,-11, -11,-11]],
  [2, [-11,-1.2, -10,-1.2, -9.65,-2.5, -9.2,-1.8, -8.1,-3.2, -7.7,-4.5, -7.75,-6, -8.4,-7.9, -9.3,-9.7, -9.8,-9.8, -11,-9.9]],
  [0, [-11,-2, -9.9,-2, -9.3,-2.7, -8.4,-2.9, -7.9,-3.7, -8.1,-6, -8.6,-7.3, -9.3,-8.9, -9.8,-8.9, -11,-9]],
  [9, [11,-1.6, 10,-1.6, 9.3,-2.9, 8.8,-5.1, 9.3,-7.9, 10,-10, 11,-10]],
  [8, [10,-3, 9.5,-2.9, 9.1,-5.1, 9.5,-7.9, 10,-9.6]],
  [7, [10,-4, 9.6,-3.5, 9.3,-5.1, 9.6,-7.5, 10,-8]],
  [10.5, [10.5,-3.5, 10,-3.6, 9.85,-5, 10,-6.8, 10.5,-7]],
  [4, [9.6,-4.2, 9.82,-5.6, 9.65,-7.5, 9.46,-5.6]],
  [8, [-3.65,11, -3.65,10, -1.8,9.8, 0.3,10, 0.3,11]]
];

const contoursJ = [
  [2, wholePanel],
  [0, [-11,9, -10,9, -7.8,8.8, -7.4,8, -5.9,6.9, -5.1,5.5, -5.3,3.1, -6.6,-0.1, -7.7,-1.4, -9.3,-2.2, -10,-2.6, -11,-2.6]],
  [0, [4.7,10.1, 4.7,9.95, 6.5,9.9, 8.5,9.8, 10,9.4, 11,9.4, 11,1.9, 10,1.9, 8.8,2.3, 7.6,3.7, 6.6,5.3, 6.2,6.9, 6.7,8, 6.2,8.6, 8.5,9.7, 8.5,10.1]],
  [0, [-8.5,-11, -8.5,-10, -8.2,-8, -7.5,-5.8, -6.6,-5.4, -5.5,-6.4, -4.7,-8.3, -4.3,-10, -4.3,-11]],
  [0, [9,-11, 9,-10, 9.7,-9, 11,-8.8, 11,-11]],
  [4, [-3.8,-11, -3.8,-10, -3.1,-8, -2,-5.8, -0.7,-4.7, 0.6,-4.3, 1.5,-4.6, 2.5,-4.2, 3.2,-3.7, 3.4,-4.7, 4.4,-5, 5.6,-6.8, 6.6,-9, 7,-10, 7,-11]],
  [4, [0.6,-3.6, 1.3,-3.35, 2,-3.6, 1.7,-4, 0.9,-4]],
  [4, [-11,-9.1, -10,-9.1, -9.4,-10, -9.4,-11, -11,-11]],
  [5.5, [-3,-11, -1.8,-7.8, -0.3,-6.5, 1.6,-6.3, 3.9,-7.6, 5.5,-9.3, 6,-11]],
  [7, [-2.8,-11, -1.2,-8.6, 0.7,-8, 2.9,-8.4, 5.2,-10.1, 5.4,-11]],
  [8, [-2.4,-11, -0.6,-9.2, 1.3,-9, 3.2,-9.4, 4.6,-10, 4.8,-11]],
  [9, [-1.8,-11, 0,-9.6, 2.2,-9.6, 3.8,-11]],
  [10.5, [-0.6,-11, 0.6,-9.95, 2,-11]]
];

const contoursK = [
  [0, wholePanel],
  [2, [2.5,-11, 2.5,-10, 3.3,-8, 4.5,-5.5, 5.95,-2.9, 7.1,-0.4, 7.85,1.5, 8.3,3.6, 9.3,5.3, 10,4.9, 11,4.9, 11,-11]],
  [2, [-6.1,-11, -6.1,-10, -6,-6.7, -4.9,-4.5, -3.5,-4.1, -1.8,-4.8, -0.5,-6.7, 0.1,-10, 0.1,-11]],
  [2, [-11,-1.9, -10,-1.9, -9.6,-2.6, -9.7,-5.2, -10,-7.2, -11,-7.2]],
  [2, [-11,-9.9, -10,-9.9, -8.9,-9.6, -7.6,-10, -7.6,-11, -11,-11]],
  [4, [3.65,-11, 3.65,-10, 4.5,-8.7, 6.1,-7.4, 7.4,-7.1, 8.6,-7.3, 9.4,-7.8, 9.7,-6.7, 10,-5.4, 11,-5.4, 11,-11]],
  [4, [11,3.3, 10,3.3, 9.75,1.4, 10,-0.5, 11,-0.5]],
  [5.5, [4.4,-11, 6.1,-8.7, 7.7,-8.4, 9,-11]],
  [7, [5.3,-11, 6.7,-9.35, 8.3,-11]],
  [4, [-5.65,-11, -5.65,-10, -4.8,-8.3, -3.5,-7.4, -2.25,-7.7, -1.15,-9, -0.7,-10, -0.7,-11]],
  [5.5, [-5.2,-11, -4.2,-9, -3.1,-8.4, -2,-9, -1.4,-11]],
  [7, [-4.8,-11, -3.7,-9.3, -2.9,-9.1, -2.1,-11]],
  [8, [-4.5,-11, -3.3,-9.65, -2.3,-11]],
  [9, [-3.9,-11, -3.3,-9.85, -2.8,-11]]
];

const contoursL = [
  [2, wholePanel],
  [0, [-11,9.4, -9.5,9.4, -8.2,8.7, -6.6,7.4, -5.2,6.3, -4.2,4.9, -4.6,2.5, -5,0.9, -5.7,-0.4, -5.9,-2.6, -5.2,-5.5, -4.6,-7.7, -4,-10, -4,-11, -8.3,-11, -8.3,-10, -8.2,-8, -7.7,-4.5, -8.2,-3.2, -8.8,-3.7, -9.6,-2.5, -10,-3.2, -11,-3.2]],
  [0, [11,9.3, 10,9.3, 8.2,9, 7.5,8.4, 7.6,6.6, 8.4,4.7, 9,3, 9.5,3.6, 10,3.1, 11,3.1]],
  [0, [6.2,9.9, 7.2,9.95, 7.2,10.1, 6.2,10.1]],
  [4, [-4.7,11, -4.7,10, -1.9,9.8, 1.3,9.75, 2.5,10, 2.5,11]],
  [4, [-11,-9, -10,-9, -9.5,-10, -9.5,-11, -11,-11]],
  [4, [-3.4,-11, -3.4,-10, -3,-8.7, -2.2,-6.8, -0.95,-5, 0.3,-4.5, 0.95,-4.85, 2.5,-4.4, 3.7,-3.7, 3.95,-4.7, 5,-5, 6.3,-6.7, 7.1,-9, 7.2,-10, 7.2,-11]],
  [4, [0.6,-3.9, 1.6,-3.7, 2,-3.4, 2.05,-2.8, 2.4,-2.6, 2.6,-3.2, 2.4,-3.95, 1.6,-4.3, 0.7,-4.2]],
  [0, [1.45,-2.95, 1.6,-3.1, 1.45,-3.25, 1.3,-3.1]],
  [5.5, [-3,-11, -2.1,-8, -0.6,-6.4, 1.6,-6.1, 4.1,-7.4, 5.8,-9.8, 6,-11]],
  [7, [-2.8,-11, -2.2,-9.5, -0.6,-8.3, 1.6,-7.9, 3.8,-8.4, 5,-9.6, 5.3,-11]],
  [8, [-2.4,-11, -0.95,-9.3, 1.3,-9, 3.5,-9.6, 4.6,-10.1, 4.8,-11]],
  [9, [-1.5,-11, 0.3,-9.7, 2.2,-9.8, 3.6,-11]]
];

const panelContours = [contoursA, contoursB, contoursC, contoursD, contoursE, contoursF, contoursG, contoursH, contoursI, contoursJ, contoursK, contoursL];

// 色标
const levelColors = ["#fbfbf9", "#ede9ef", "#a4d6cf", "#cfe2a6", "#f6e95f", "#fdd62f", "#f8ad4c", "#f07f70"];

// 面板位置
const rowTops = [1, 220, 438, 657];
const colLefts = [[33, 258, 482], [33, 258, 483], [33, 258, 483], [36, 260, 484]];
const panelSize = 210;
const colorbarLefts = [50, 274, 499];

// 轮廓层的模糊, 让相邻色层过渡得柔和一些
const bandBlur = {
  id: "bandBlur",
  beforeDatasetDraw(chart, args) {
    const blur = chart.data.datasets[args.index].blurPx;
    if (blur) chart.ctx.filter = `blur(${blur}px)`;
  },
  afterDatasetDraw(chart) {
    chart.ctx.filter = "none";
  }
};
Chart.unregister(Chart.Filler);
Chart.register(bandBlur);
Chart.register(Chart.Filler);

// 边框和朝内的刻度
const panelFrame = {
  id: "panelFrame",
  beforeDraw(chart, args, opts) {
    const { x, y } = chart.scales;
    // 两端的标签收进图框内
    for (const item of y.options.display ? y.getLabelItems() : []) {
      if (item.moved) continue;
      if (item.label === "10") item.options.translation[1] += 3;
      if (item.label === "-10") item.options.translation[1] -= 2;
      item.moved = true;
    }
    for (const item of x.options.display ? x.getLabelItems() : []) {
      if (item.moved) continue;
      if (item.label === "-10") item.options.translation[0] += opts.firstLabelShift;
      if (item.label === "10") item.options.translation[0] -= 2;
      item.moved = true;
    }
  },
  afterDatasetsDraw(chart, args, opts) {
    const { ctx, chartArea: a, scales } = chart;
    ctx.save();
    ctx.strokeStyle = "#bdbdbd";
    ctx.lineWidth = 1;
    ctx.strokeRect(a.left + 0.5, a.top + 0.5, a.right - a.left - 1, a.bottom - a.top - 1);
    ctx.strokeStyle = "#777";
    ctx.beginPath();
    if (opts.leftTicks) {
      for (const v of [-5, 0, 5]) {
        const p = Math.round(scales.y.getPixelForValue(v)) + 0.5;
        ctx.moveTo(a.left, p);
        ctx.lineTo(a.left + 4, p);
      }
    }
    if (opts.bottomTicks) {
      for (const v of [-5, 0, 5]) {
        const p = Math.round(scales.x.getPixelForValue(v)) + 0.5;
        ctx.moveTo(p, a.bottom);
        ctx.lineTo(p, a.bottom - 4);
      }
    }
    ctx.stroke();
    ctx.restore();
  }
};

const page = document.getElementById("page");
const serif = '"Liberation Serif", "Noto Sans CJK SC", serif';

function addCanvas(left, top, width, height) {
  const canvas = document.createElement("canvas");
  canvas.width = width;
  canvas.height = height;
  canvas.style.left = left + "px";
  canvas.style.top = top + "px";
  canvas.style.width = width + "px";
  canvas.style.height = height + "px";
  page.appendChild(canvas);
  return canvas;
}

// 高值底色的面板里, 青色层和黄绿色层之间也是渐变的
function blurFor(level, points, softBase) {
  if (points.length <= 12) return 0.7;
  if (level <= 2) return 0.6;
  if (level <= 4) return softBase ? 3 : 0.8;
  if (level === 5.5) return 6;
  if (level === 7) return 5;
  if (level === 9) return 6;
  if (level === 10.5) return 2.5;
  return 4;
}

function drawPanel(index) {
  const row = Math.floor(index / 3);
  const col = index % 3;
  const showY = col === 0;
  const showX = row === 3;
  const marginLeft = showY ? colLefts[row][0] : (showX ? 14 : 0);
  const marginTop = row === 0 ? 1 : 6;
  const marginRight = 8;
  const marginBottom = showX ? 32 : 0;
  const canvas = addCanvas(colLefts[row][col] - marginLeft, rowTops[row] - marginTop,
    marginLeft + panelSize + marginRight, marginTop + panelSize + marginBottom);

  const contours = panelContours[index];
  const softBase = contours[0][0] === 10.5;
  // 数组中先写的在下层, Chart.js 先画后面的数据集, 所以倒过来
  const datasets = contours.map(([level, points]) => ({
    data: points.filter((_, i) => i % 2 === 0).map((x, i) => ({ x, y: points[i * 2 + 1] })),
    backgroundColor: levelColors[levelValues.indexOf(level)],
    borderWidth: 0,
    pointRadius: 0,
    showLine: true,
    fill: "shape",
    tension: points === wholePanel ? 0 : 0.35,
    capBezierPoints: false,
    blurPx: points === wholePanel ? 0 : blurFor(level, points, softBase)
  })).reverse();

  new Chart(canvas, {
    type: "scatter",
    data: { datasets },
    plugins: [panelFrame],
    options: {
      responsive: false,
      animation: false,
      events: [],
      layout: { padding: { top: marginTop, right: marginRight, left: 0, bottom: 0 } },
      plugins: {
        legend: { display: false },
        tooltip: { enabled: false },
        panelFrame: { leftTicks: showY, bottomTicks: showX, firstLabelShift: col === 0 ? 0 : 8 }
      },
      scales: {
        x: {
          type: "linear", min: -10, max: 10, display: showX,
          grid: { display: false, drawTicks: false }, border: { display: false },
          afterBuildTicks: s => { s.ticks = axisTicks.map(value => ({ value })); },
          afterFit: s => { s.height = marginBottom; s.paddingLeft = 0; s.paddingRight = 0; },
          ticks: { color: "#444", padding: 6, maxRotation: 0, autoSkip: false, font: { family: serif, size: 12 } },
          title: { display: true, text: "东向(km)", color: "#555", padding: { top: 0, bottom: 0 }, font: { family: serif, size: 13 } }
        },
        y: {
          type: "linear", min: -10, max: 10, display: showY,
          grid: { display: false, drawTicks: false }, border: { display: false },
          afterBuildTicks: s => { s.ticks = axisTicks.map(value => ({ value })); },
          afterFit: s => { s.width = marginLeft; s.paddingTop = 0; s.paddingBottom = 0; },
          ticks: { color: "#444", padding: 5, autoSkip: false, font: { family: serif, size: 12 } },
          title: { display: true, text: "北向(km)", color: "#555", padding: { top: row === 3 ? 6 : 0, bottom: 0 }, font: { family: serif, size: 13 } }
        }
      }
    }
  });

  const tag = document.createElement("div");
  tag.className = "tag";
  tag.textContent = panelTags[index];
  tag.style.left = colLefts[row][col] + 2 + "px";
  tag.style.top = rowTops[row] + 4 + "px";
  page.appendChild(tag);
}

function drawColorbar(index) {
  const barTop = 903, barHeight = 9, barWidth = 136;
  const max = colorbarMax[index];
  const canvas = addCanvas(colorbarLefts[index] - 10, barTop, barWidth + 16, 33);
  new Chart(canvas, {
    type: "bar",
    data: {
      labels: [""],
      datasets: [
        { data: [[0, 2]], backgroundColor: "#eef5f0" },
        { data: [[2, 4]], backgroundColor: "#dcd8e8" },
        {
          data: [[4, max]],
          backgroundColor(c) {
            const area = c.chart.chartArea;
            if (!area) return "#a4d6cf";
            const sx = c.chart.scales.x;
            const g = c.chart.ctx.createLinearGradient(sx.getPixelForValue(4), 0, sx.getPixelForValue(max), 0);
            g.addColorStop(0, "#a4d6cf");
            g.addColorStop(0.3, "#cfe2a6");
            g.addColorStop(0.52, "#f6e95f");
            g.addColorStop(0.7, "#fdc93c");
            g.addColorStop(1, "#f07f70");
            return g;
          }
        }
      ].map(d => ({ ...d, barPercentage: 1, categoryPercentage: 1, borderWidth: 0 }))
    },
    plugins: [{
      id: "barOutline",
      afterDatasetsDraw(chart) {
        const { ctx, chartArea: a } = chart;
        ctx.save();
        ctx.strokeStyle = "#b5b5b5";
        ctx.strokeRect(a.left + 0.5, a.top + 0.5, a.right - a.left - 1, a.bottom - a.top - 1);
        ctx.restore();
      }
    }],
    options: {
      indexAxis: "y",
      responsive: false,
      animation: false,
      events: [],
      layout: { padding: { left: 10, right: 6, top: 0, bottom: 0 } },
      plugins: { legend: { display: false }, tooltip: { enabled: false } },
      scales: {
        y: { stacked: true, display: false },
        x: {
          type: "linear", min: 0, max,
          border: { display: false },
          grid: { drawOnChartArea: false, drawTicks: true, tickLength: 5, tickColor: "#888" },
          afterBuildTicks: s => { s.ticks = colorbarTicks.map(value => ({ value })); },
          afterFit: s => { s.height = 33 - barHeight; s.paddingLeft = 0; s.paddingRight = 0; },
          ticks: { color: "#444", padding: 3, maxRotation: 0, autoSkip: false, font: { family: serif, size: 12 } }
        }
      }
    }
  });

  const unit = document.createElement("div");
  unit.className = "unit";
  unit.style.left = colorbarLefts[index] + barWidth + 0 + "px";
  unit.style.top = "902px";
  unit.innerHTML = colorbarUnit.join("<br>");
  page.appendChild(unit);
}

panelContours.forEach((_, i) => drawPanel(i));
colorbarMax.forEach((_, i) => drawColorbar(i));
</script>
</body>
</html>
